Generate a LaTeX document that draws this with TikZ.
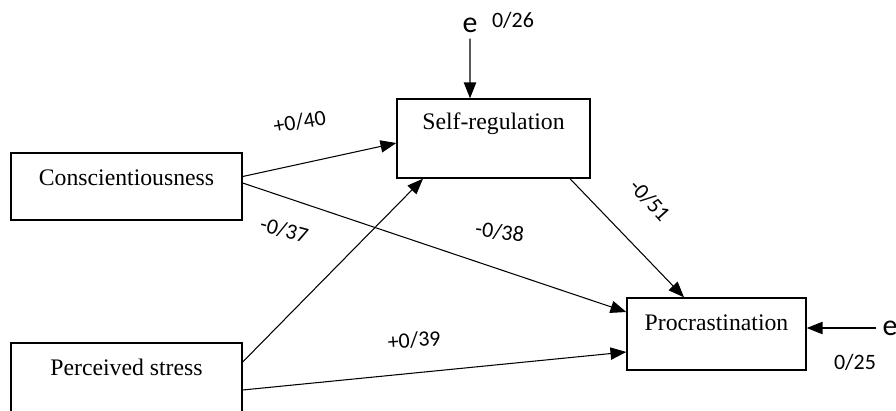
\documentclass[tikz,border=0pt]{standalone}
\usepackage{fontspec}
\setmainfont{Liberation Serif}
\newfontfamily\numfont{Carlito}
\usetikzlibrary{arrows.meta}
\tikzset{
  varbox/.style={draw, line width=0.8pt, inner sep=0pt, text height=0.33cm,
    font=\fontsize{13.5}{16}\selectfont},
  effect/.style={-{Triangle[length=9pt,width=7pt]}, line width=0.6pt},
  coef/.style={font=\numfont\fontsize{12.5}{15}\selectfont},
  errlab/.style={font=\numfont\fontsize{17}{20}\selectfont}
}
\begin{document}
\begin{tikzpicture}[x=0.02cm, y=-0.02cm]
     \useasboundingbox (0,0) rectangle (896,410);
     \node[varbox, minimum width=4.62cm, minimum height=1.34cm, text depth=0.39cm] (consc) at (126.5,186.5) {Conscientiousness};
     \node[varbox, minimum width=4.62cm, minimum height=1.4cm, text depth=0.45cm] (stress) at (126.5,378) {Perceived stress};
     \node[varbox, minimum width=3.86cm, minimum height=1.58cm, text depth=0.71cm] (selfreg) at (493.5,138.5) {Self-regulation};
     \node[varbox, minimum width=3.58cm, minimum height=1.44cm, text depth=0.49cm] (procr) at (716.5,334) {Procrastination};
     \node[errlab] (etop) at (470,25) {e};
     \node[coef] at (513,20) {0/26};
     \node[errlab] (eright) at (890,328) {e};
     \node[coef] at (855,362) {0/25};
     \draw[effect] (etop.south) -- ([xshift=-0.47cm]selfreg.north);
     \draw[effect] (eright.west) -- (eright.west -| procr.east);
     \draw[effect] ([yshift=0.2cm]consc.east) -- ([yshift=-0.09cm]selfreg.west) node[coef, pos=0.37, yshift=0.84cm, rotate=10]{+0/40};
     \draw[effect] ([yshift=0.07cm]consc.east) -- ([yshift=0.44cm]procr.west) node[coef, pos=0.67, yshift=0.75cm, rotate=-8]{-0/38};
     \draw[effect] ([yshift=0.32cm]stress.east) -- ([xshift=-1.41cm]selfreg.south) node[coef, pos=0.23, yshift=1.8cm, rotate=-15]{-0/37};
     \draw[effect] ([yshift=-0.24cm]stress.east) -- ([yshift=-0.36cm]procr.west) node[coef, pos=0.447, yshift=0.66cm, rotate=4]{+0/39};
     \draw[effect] ([xshift=1.53cm]selfreg.south) -- ([xshift=-0.65cm]procr.north) node[coef, pos=0.2, xshift=1.14cm, yshift=0.04cm, rotate=-48]{-0/51};
 \end{tikzpicture}
\end{document}
